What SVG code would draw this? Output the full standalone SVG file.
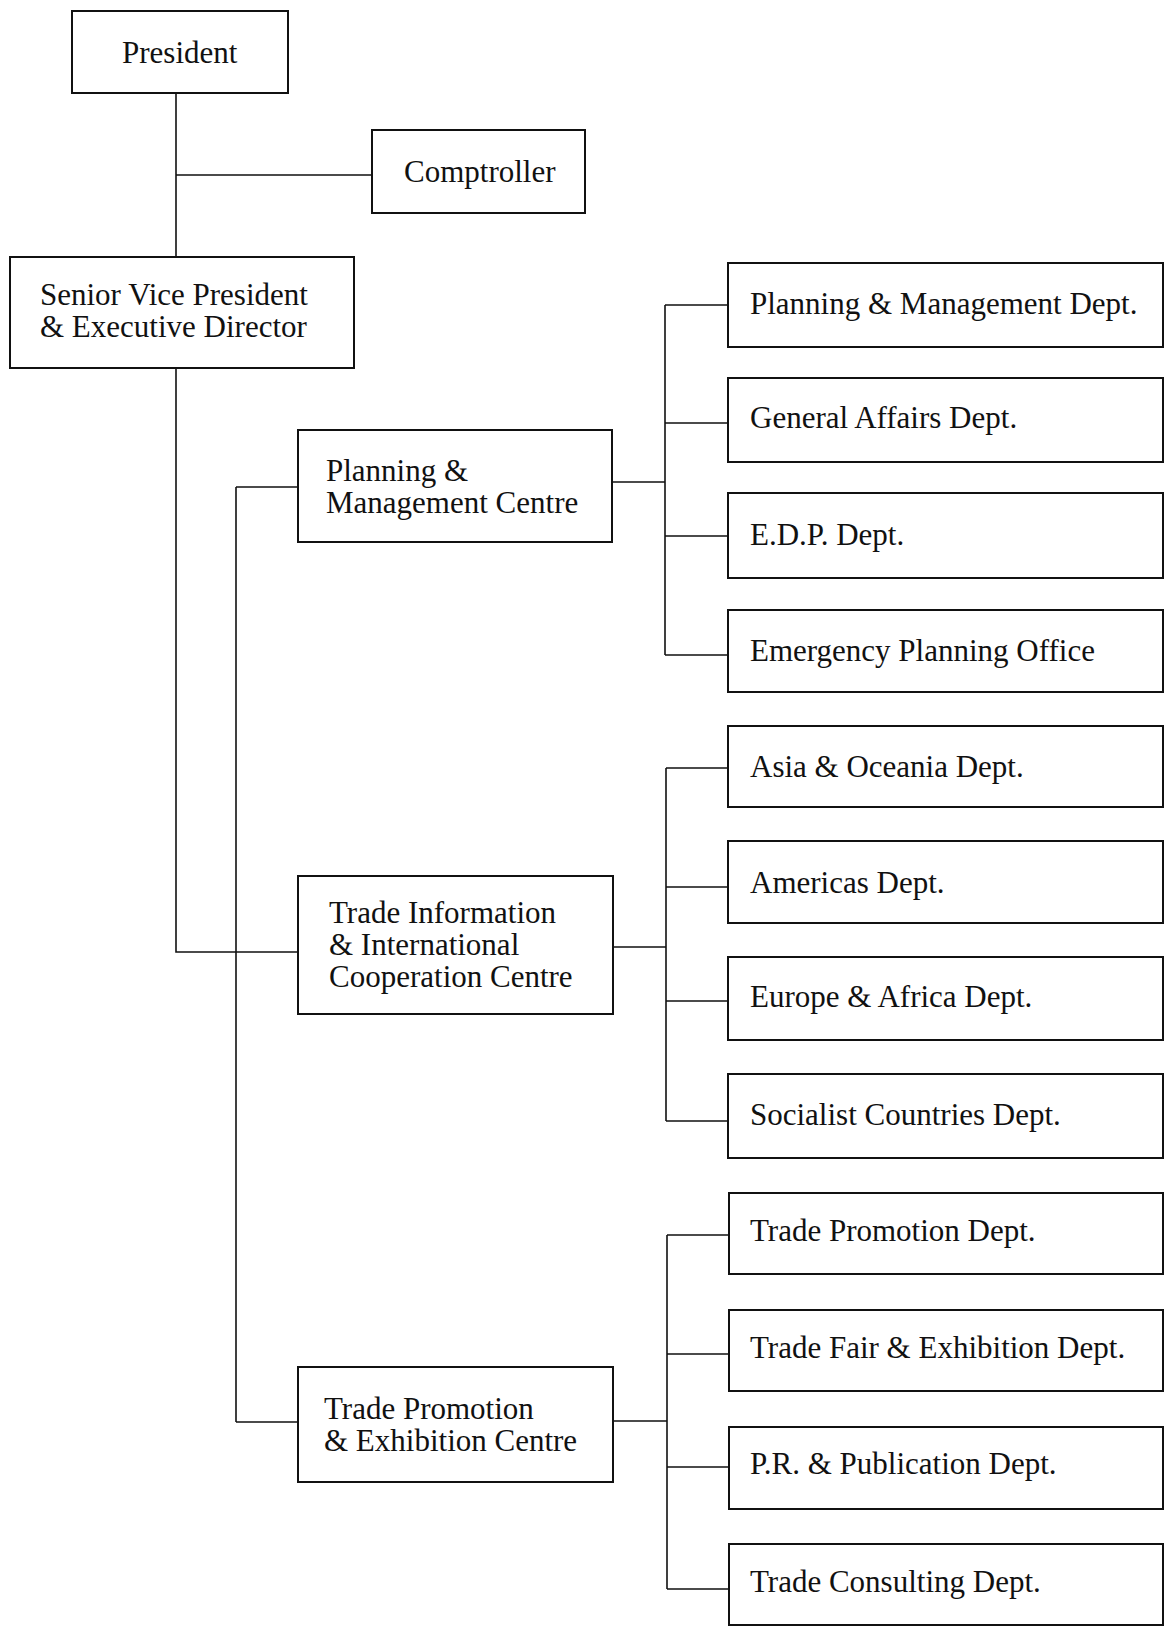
<svg xmlns="http://www.w3.org/2000/svg" width="1165" height="1628" viewBox="0 0 1165 1628">
<style>
.box{fill:#fff;stroke:#111;stroke-width:2}
.lbl{font-family:"Liberation Serif","Times New Roman",serif;font-size:31px;fill:#111}
.con{fill:none;stroke:#111;stroke-width:1.6}
</style>
<rect width="1165" height="1628" fill="#fff"/>
<g id="connectors">
<path class="con" d="M176 93V257M176 175H372"/>
<path class="con" d="M176 368V952H298"/>
<path class="con" d="M236 487V1422M236 487H298M236 1422H298"/>
<path class="con" d="M612 482H665M665 305V655M665 305H728M665 423H728M665 536H728M665 655H728"/>
<path class="con" d="M613 947H666M666 768V1121M666 768H728M666 887H728M666 1001H728M666 1121H728"/>
<path class="con" d="M613 1421H667M667 1235V1589M667 1235H729M667 1354H729M667 1467H729M667 1589H729"/>
</g>
<g id="president"><rect class="box" x="72" y="11" width="216" height="82"/><text class="lbl" x="122" y="63">President</text></g>
<g id="comptroller"><rect class="box" x="372" y="130" width="213" height="83"/><text class="lbl" x="404" y="182">Comptroller</text></g>
<g id="svp"><rect class="box" x="10" y="257" width="344" height="111"/><text class="lbl" x="40" y="305">Senior Vice President</text><text class="lbl" x="40" y="337">&amp; Executive Director</text></g>
<g id="pmc"><rect class="box" x="298" y="430" width="314" height="112"/><text class="lbl" x="326" y="481">Planning &amp;</text><text class="lbl" x="326" y="513">Management Centre</text></g>
<g id="tiicc"><rect class="box" x="298" y="876" width="315" height="138"/><text class="lbl" x="329" y="923">Trade Information</text><text class="lbl" x="329" y="955">&amp; International</text><text class="lbl" x="329" y="987">Cooperation Centre</text></g>
<g id="tpec"><rect class="box" x="298" y="1367" width="315" height="115"/><text class="lbl" x="324" y="1419">Trade Promotion</text><text class="lbl" x="324" y="1451">&amp; Exhibition Centre</text></g>
<g id="d1"><rect class="box" x="728" y="263" width="435" height="84"/><text class="lbl" x="750" y="314">Planning &amp; Management Dept.</text></g>
<g id="d2"><rect class="box" x="728" y="378" width="435" height="84"/><text class="lbl" x="750" y="428">General Affairs Dept.</text></g>
<g id="d3"><rect class="box" x="728" y="493" width="435" height="85"/><text class="lbl" x="750" y="545">E.D.P. Dept.</text></g>
<g id="d4"><rect class="box" x="728" y="610" width="435" height="82"/><text class="lbl" x="750" y="661">Emergency Planning Office</text></g>
<g id="d5"><rect class="box" x="728" y="726" width="435" height="81"/><text class="lbl" x="750" y="777">Asia &amp; Oceania Dept.</text></g>
<g id="d6"><rect class="box" x="728" y="841" width="435" height="82"/><text class="lbl" x="750" y="893">Americas Dept.</text></g>
<g id="d7"><rect class="box" x="728" y="957" width="435" height="83"/><text class="lbl" x="750" y="1007">Europe &amp; Africa Dept.</text></g>
<g id="d8"><rect class="box" x="728" y="1074" width="435" height="84"/><text class="lbl" x="750" y="1125">Socialist Countries Dept.</text></g>
<g id="d9"><rect class="box" x="729" y="1193" width="434" height="81"/><text class="lbl" x="750" y="1241">Trade Promotion Dept.</text></g>
<g id="d10"><rect class="box" x="729" y="1310" width="434" height="81"/><text class="lbl" x="750" y="1358">Trade Fair &amp; Exhibition Dept.</text></g>
<g id="d11"><rect class="box" x="729" y="1427" width="434" height="82"/><text class="lbl" x="750" y="1474">P.R. &amp; Publication Dept.</text></g>
<g id="d12"><rect class="box" x="729" y="1544" width="434" height="81"/><text class="lbl" x="750" y="1592">Trade Consulting Dept.</text></g>
</svg>
